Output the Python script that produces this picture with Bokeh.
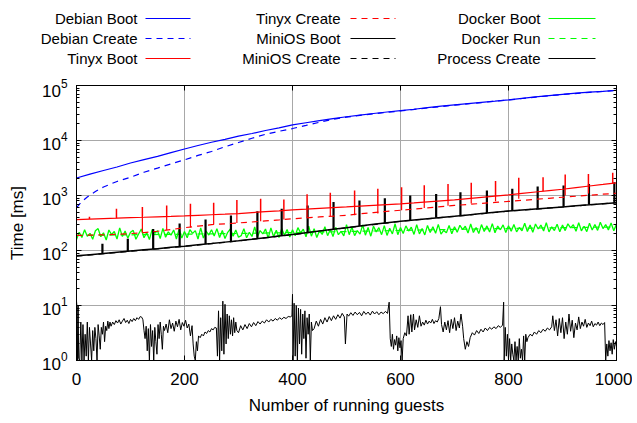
from bokeh.plotting import figure
from bokeh.models import Range1d, LogAxis, LinearAxis, FixedTicker, LogTicker, CustomJSTickFormatter
from bokeh.core.properties import value
from bokeh.embed import file_html
from bokeh.resources import INLINE

# ---------------- data ----------------
x_ticks = [0, 200, 400, 600, 800, 1000]

step25 = list(range(0, 1001, 25))

debian_boot = [2080, 2450, 2850, 3300, 3900, 4500, 5150, 6000, 7000, 8100,
               9300, 10500, 12000, 13400, 15200, 17000, 19200, 21000, 23000, 25000,
               27000, 29000, 31000, 33000, 35000, 37000, 39500, 42000, 44500, 47000,
               49500, 52000, 55000, 58500, 62000, 65500, 69000, 72500, 75500, 78500, 82000]

debian_create_x = [0, 10, 20, 35, 50, 75, 100, 125, 150, 175, 200, 225, 250, 275, 300,
                   325, 350, 375, 400, 425, 450, 475, 500, 525, 550, 600, 650, 700,
                   750, 800, 850, 900, 950, 1000]
debian_create = [600, 780, 940, 1180, 1430, 1800, 2150, 2650, 3150, 3750, 4450, 5350,
                 6300, 7700, 9200, 11000, 13000, 14700, 16500, 18800, 21500, 24300, 26600,
                 28700, 30600, 34500, 39000, 44000, 49000, 54500, 61500, 68500, 75000, 81500]

tinyx_boot = [365, 372, 380, 387, 395, 402, 410, 417, 425, 436, 447, 458, 470, 490, 508,
              527, 550, 566, 585, 602, 620, 640, 661, 683, 705, 734, 765, 797, 830, 876,
              925, 975, 1030, 1092, 1158, 1228, 1300, 1390, 1490, 1590, 1700]
tinyx_spike_x = [24, 74, 122, 167, 211, 254, 297, 341, 384, 427, 470, 515, 558, 602,
                 644, 688, 731, 776, 819, 864, 905, 948, 993]
tinyx_spike_base = [372, 387, 401, 415, 430, 449, 468, 501, 535, 567, 599, 632, 669, 707,
                    757, 813, 888, 977, 1077, 1197, 1310, 1480, 1670]
tinyx_spike_top = [410, 575, 615, 660, 705, 740, 830, 870, 850, 1050, 1120, 1230, 1320,
                   1410, 1540, 1620, 1700, 1830, 2100, 2150, 2400, 2470, 2600]

tinyx_create = [188, 190, 193, 197, 203, 212, 224, 240, 260, 278, 295, 306, 317, 330, 345,
                360, 377, 392, 407, 421, 437, 465, 490, 515, 540, 568, 597, 628, 660, 688,
                718, 748, 780, 815, 852, 890, 930, 970, 1012, 1055, 1100]
tinyx_create_bump_x = [122, 167, 211, 254, 297, 341, 384, 427, 470, 515, 558, 602, 644,
                       688, 731, 776, 819, 905, 948]
tinyx_create_bump_low = [212, 235, 262, 296, 316, 340, 366, 391, 414, 439, 470, 541, 593,
                         654, 717, 784, 871, 1003, 1093]
tinyx_create_bump_high = [401, 415, 430, 449, 468, 501, 535, 567, 599, 632, 669, 707, 757,
                          813, 888, 977, 1077, 1310, 1480]

minios_boot = [80, 84, 88, 93, 98, 103, 108, 114, 120, 127, 134, 142, 150, 160, 171, 183,
               195, 210, 226, 243, 260, 279, 299, 319, 340, 359, 379, 399, 420, 444, 469,
               494, 520, 544, 569, 594, 620, 648, 677, 708, 740]
minios_spike_x = [48, 95, 142, 191, 239, 286, 335, 380, 428, 476, 524, 571, 618, 666,
                  711, 760, 807, 854, 902, 949, 996]
minios_spike_base = [88, 97, 106, 118, 131, 145, 164, 185, 212, 244, 278, 316, 354, 392,
                     430, 479, 527, 573, 622, 676, 735]
minios_spike_top = [133, 163, 245, 310, 365, 435, 515, 575, 660, 760, 810, 890, 1000, 1070,
                    1150, 1230, 1320, 1450, 1520, 1620, 1740]

minios_create_x = [0, 100, 200, 300, 400, 500, 600, 700, 800, 900, 1000]
minios_create = [79, 97, 119, 149, 194, 259, 338, 418, 518, 618, 738]

docker_x = list(range(0, 1001, 5))
docker_boot = [158, 215, 172, 238, 181, 205, 160, 228, 250, 178, 210, 155, 236, 195, 222, 162, 258, 180, 226, 168, 214,
               232, 160, 199, 246, 170, 212, 158, 240, 206, 228, 165, 252, 174, 218, 190, 236, 162, 244, 168, 222,
               170, 240, 205, 230, 162, 258, 168, 226, 191, 238, 184, 250, 172, 232, 165, 214, 246, 182, 236, 174,
               186, 250, 170, 214, 180, 268, 176, 230, 200, 246, 168, 258, 178, 234, 172, 250, 190, 240, 176, 238,
               186, 260, 210, 244, 178, 276, 182, 248, 172, 228, 196, 270, 186, 242, 180, 264, 194, 222, 184, 296,
               194, 268, 186, 230, 198, 292, 190, 262, 182, 276, 218, 260, 194, 284, 188, 254, 200, 306, 194, 262,
               204, 280, 226, 266, 196, 296, 200, 250, 192, 286, 212, 270, 206, 298, 198, 232, 210, 284, 202, 270,
               214, 288, 240, 276, 208, 304, 212, 262, 204, 296, 222, 280, 216, 308, 210, 278, 238, 292, 212, 282,
               224, 298, 218, 262, 228, 312, 222, 292, 214, 304, 246, 290, 226, 320, 218, 270, 230, 300, 220, 290,
               230, 306, 258, 294, 224, 320, 228, 276, 220, 312, 236, 298, 232, 326, 250, 296, 236, 316, 228, 302]

docker_run_x = [0, 100, 200, 300, 400, 500, 600, 700, 800, 900, 1000]
docker_run = [188, 193, 198, 204, 212, 221, 232, 242, 252, 260, 268]

process_x = [0, 1, 2, 3, 4, 6, 8, 10, 12, 14, 16, 18, 20, 22, 24, 26, 28, 30, 32, 34, 36, 38, 40, 42, 44, 46, 48, 50,
             52, 54, 56, 58, 60, 62,
             64, 67, 70, 73, 76, 79, 82, 85, 88, 91, 94, 97, 100, 103, 106, 109, 112, 115, 118, 121, 123,
             125, 127, 129, 131, 133, 135, 137, 139, 141, 143, 145, 147, 149, 151, 153, 155, 157, 159, 161,
             163, 166, 169, 172, 175, 178, 181, 184, 187, 190, 193, 196, 199, 202, 205, 208, 211, 214, 216,
             218, 220, 222, 224, 226, 229, 232, 235, 238, 241, 244, 247, 250, 253, 256, 259,
             261, 263, 265, 267, 269, 271, 273, 275, 277, 279, 281, 283, 285, 287, 289, 291, 293, 295, 297,
             300, 304, 308, 312, 316, 320, 324, 328, 332, 336, 340, 344, 348, 352, 356, 360, 364, 368, 372,
             376, 380, 384, 388, 392, 396, 399,
             400, 401, 403, 405, 407, 409, 411, 413, 415, 417, 419, 421, 423, 425, 427, 429, 431, 433, 435, 437,
             440, 444, 448, 452, 456, 460, 464, 468, 472, 476, 480, 484, 488, 492, 496, 498, 501, 504, 508, 512,
             516, 520, 524, 528, 532, 536, 540, 544, 548, 552, 556, 560, 564, 568, 572, 576, 579,
             581, 583, 585, 587, 589, 591, 593, 595, 597, 599, 601, 603,
             605, 608, 611, 614, 616, 619, 621, 624, 626, 629, 632, 635, 638, 641, 644, 647, 650, 653, 656,
             659, 662, 665, 668, 671, 674,
             676, 679, 682, 685, 688, 691, 694, 697, 700, 703, 706, 709, 712, 715, 717,
             720, 723, 726,
             729, 733, 737, 741, 745, 749, 753, 757, 761, 765, 769, 773, 777, 781, 785, 789, 791,
             792, 794, 796, 798, 800, 802, 804, 806, 808, 810, 812, 814, 816, 818, 820, 822, 824, 826, 828,
             830, 832, 834,
             836, 840, 844, 848, 852, 856, 860, 864, 868, 872, 876, 880,
             882, 885, 888, 891, 894, 897, 900, 903, 906, 909, 912, 915, 918, 921, 924, 927, 930, 933, 936,
             939, 942, 945, 948, 951, 954, 957, 960, 963, 966, 969, 972, 975, 978,
             980, 982, 984, 986, 988, 990, 992, 994, 996, 998, 1000]
process_create = [12, 9, 1, 10, 1.1, 1, 5, 1, 4.5, 1, 3, 1.2, 5, 1, 4, 2, 1, 3.5, 1.5, 4, 2.5, 1, 4.5, 2.8, 1.6, 4, 3, 5,
                  2.2, 4.2, 3.5, 5.2, 3.8, 5,
                  4.2, 5, 4.5, 5.3, 4.8, 5.5, 4.6, 5.2, 5.8, 4.9, 5.4, 4.7, 5.6, 5.1, 5.8, 5.3, 6, 5.6, 6.3, 6.1, 5.5,
                  3.5, 2.5, 4.2, 1.5, 3.8, 1, 4.5, 1.8, 3.5, 1, 4, 2.2, 1.3, 4.5, 2.5, 5, 3, 1.6, 4.2,
                  3.5, 4.6, 3.2, 5.5, 3.8, 4.8, 3.4, 5.2, 4.1, 5.6, 3.6, 4.9, 4.2, 5.4, 3.9, 4.6, 2.8, 4.3, 2,
                  1.2, 1, 2.2, 1.5, 2.8, 2.6, 3, 2.8, 3.3, 3.1, 3.5, 3.3, 3.8, 3.6, 4, 3.9,
                  1.2, 8, 1, 6, 1.5, 12, 1.3, 10.5, 2, 7, 2.5, 6.5, 3, 5.5, 2.8, 6, 3.2, 5, 3.5,
                  3.2, 4.3, 3.6, 4.5, 3.8, 4.7, 4.1, 4.9, 4.3, 5.1, 4.6, 5.2, 4.8, 5.5, 5, 5.6, 5.2, 5.8, 5.4,
                  6, 5.6, 6.1, 5.8, 6.3, 6.2, 6.5,
                  16, 1, 11, 1.2, 10, 1, 9, 2, 8.5, 1.3, 7, 2.5, 8, 1.1, 6, 3, 7, 1, 5, 3.5,
                  3.8, 5.2, 4.2, 5.6, 4.6, 6, 5, 6.3, 5.3, 6.5, 5.6, 6.8, 5.9, 7.2, 6.2, 2.0, 7, 6.4, 7.4, 6.6,
                  7.6, 6.8, 7.5, 6.5, 7.8, 6.9, 7.6, 6.7, 7.9, 7, 7.7, 6.8, 7.6, 7.1, 7.8, 7.2, 11.5,
                  2.5, 1.8, 3, 1.6, 2.4, 1.9, 2.8, 1.5, 2.6, 1.7, 2.3, 1,
                  2.5, 3.2, 2.8, 6.5, 3, 6.8, 3.3, 7, 3.6, 5.5, 4, 6.5, 4.2, 5, 4.4, 5.4, 4.6, 5.2, 4.8,
                  5.6, 4.7, 5.3, 5, 5.8, 9.5,
                  4.5, 3.3, 5, 3.6, 5.3, 3.2, 5.6, 3.8, 6, 3.5, 5.2, 3.9, 7, 4.2, 2.5,
                  1.6, 2.2, 1.8,
                  2.6, 3.2, 2.9, 3.5, 3.1, 3.7, 3.3, 3.9, 3.5, 4, 3.7, 4.1, 3.8, 4.3, 4, 4.4, 11.5,
                  1, 4, 1.2, 3, 1, 2.5, 1, 2, 1.3, 1, 2.2, 1, 1.8, 1, 2.5, 1.1, 1.6, 1, 2.8,
                  1, 3, 2.2,
                  2.6, 3, 2.8, 3.3, 3, 3.5, 3.2, 3.7, 3.4, 3.9, 3.6, 4.1,
                  6.5, 3.5, 5.5, 2.8, 5.8, 3.2, 6, 2.5, 5, 3, 7, 3.4, 5.4, 2.6, 4.8, 3.6, 6.2, 3.8, 5,
                  4.2, 5.6, 4, 4.8, 4.3, 5.2, 4.1, 4.7, 4.4, 5, 4.3, 4.8, 4.5, 4.9,
                  1, 2, 1.2, 2.3, 1.5, 2.1, 1.3, 2.4, 1.6, 2.2, 1.8]

legend_labels = ["Debian Boot", "Debian Create", "Tinyx Boot",
                 "Tinyx Create", "MiniOS Boot", "MiniOS Create",
                 "Docker Boot", "Docker Run", "Process Create"]
legend_colors = ["#0000ff", "#0000ff", "#ff0000",
                 "#ff0000", "#000000", "#000000",
                 "#00ff00", "#00ff00", "#000000"]
legend_dashes = ["solid", "6 5", "solid", "6 5", "solid", "6 5", "solid", "6 5", "solid"]

FONT = "Liberation Sans"
DASH = "6 5"
LW = 1.2
GREEN = "#00ff00"

# ---------------- main plot ----------------
p = figure(width=632, height=340, y_axis_type="log",
           x_range=Range1d(0, 1000), y_range=Range1d(1, 1e5),
           output_backend="svg", toolbar_location=None,
           min_border_left=76, min_border_right=16, min_border_top=7, min_border_bottom=58)

p.outline_line_color = "black"
p.outline_line_width = 1

p.xaxis.ticker = FixedTicker(ticks=x_ticks, minor_ticks=[])
p.yaxis.ticker = LogTicker(num_minor_ticks=10)
p.xaxis.axis_label = "Number of running guests"
p.yaxis.axis_label = "Time [ms]"
for ax in (p.xaxis, p.yaxis):
    ax.axis_label_text_font = FONT
    ax.axis_label_text_font_size = "17px"
    ax.axis_label_text_font_style = "normal"
    ax.axis_label_text_color = "black"
    ax.major_label_text_font = FONT
    ax.major_label_text_font_size = "17px"
    ax.major_label_text_color = "black"
    ax.major_tick_in = 5
    ax.major_tick_out = 0
    ax.minor_tick_in = 3
    ax.minor_tick_out = 0
    ax.axis_line_color = "black"
    ax.major_tick_line_color = "black"
    ax.minor_tick_line_color = "black"
p.xaxis.major_label_standoff = 12
p.xaxis.axis_label_standoff = 8
p.yaxis.major_label_standoff = 9
p.yaxis.axis_label_standoff = 12

blank = CustomJSTickFormatter(code="return ''")
right_ax = LogAxis(ticker=LogTicker(num_minor_ticks=10), formatter=blank,
                   major_label_text_font_size="1px", major_label_standoff=0,
                   major_tick_in=5, major_tick_out=0, minor_tick_in=3, minor_tick_out=0)
p.add_layout(right_ax, "right")
top_ax = LinearAxis(ticker=FixedTicker(ticks=x_ticks, minor_ticks=[]), formatter=blank,
                    major_label_text_font_size="1px", major_label_standoff=0,
                    major_tick_in=5, major_tick_out=0, minor_tick_in=0, minor_tick_out=0)
p.add_layout(top_ax, "above")

p.grid.grid_line_color = "#a8a8a8"
p.grid.grid_line_width = 1
p.xgrid.ticker = FixedTicker(ticks=x_ticks)

# series hidden underneath first
p.line(minios_create_x, minios_create, line_color="black", line_width=LW, line_dash=DASH)
p.line(docker_run_x, docker_run, line_color=GREEN, line_width=LW, line_dash=DASH)

# Process Create
p.line(process_x, process_create, line_color="black", line_width=1)

# Docker Boot
p.line(docker_x, docker_boot, line_color=GREEN, line_width=1.3)

# MiniOS Boot
p.line(step25, minios_boot, line_color="black", line_width=1.5)
p.segment(x0=minios_spike_x, y0=minios_spike_base, x1=minios_spike_x, y1=minios_spike_top,
          line_color="black", line_width=2.2)

# Tinyx Create
p.line(step25, tinyx_create, line_color="#ff0000", line_width=LW, line_dash=DASH)
p.segment(x0=tinyx_create_bump_x, y0=tinyx_create_bump_low, x1=tinyx_create_bump_x,
          y1=tinyx_create_bump_high, line_color="#ff0000", line_width=LW)

# Tinyx Boot
p.line(step25, tinyx_boot, line_color="#ff0000", line_width=LW)
p.segment(x0=tinyx_spike_x, y0=tinyx_spike_base, x1=tinyx_spike_x, y1=tinyx_spike_top,
          line_color="#ff0000", line_width=1.5)

# Debian
p.line(debian_create_x, debian_create, line_color="#0000ff", line_width=LW, line_dash=DASH)
p.line(step25, debian_boot, line_color="#0000ff", line_width=LW)

# ---------------- legend (gnuplot style: label, then sample) ----------------
lg = figure(width=632, height=78, x_range=Range1d(0, 632), y_range=Range1d(78, 0),
            output_backend="svg", toolbar_location=None,
            x_axis_location=None, y_axis_location=None,
            min_border=0, min_border_left=0, min_border_right=0,
            min_border_top=0, min_border_bottom=0)
lg.grid.visible = False
lg.outline_line_color = None

col_text_right = [137, 340, 540]
col_line_start = [145, 350, 548]
col_line_end = [190, 395, 595]
row_y = [18, 38, 58]

for i, (lab, colr, dash) in enumerate(zip(legend_labels, legend_colors, legend_dashes)):
    c, r = divmod(i, 3)
    lg.text(x=[col_text_right[c]], y=[row_y[r]], text=[lab], text_align="right",
            text_baseline="middle", text_font=value(FONT), text_font_size="15px",
            text_color="black")
    lg.segment(x0=[col_line_start[c]], y0=[row_y[r]], x1=[col_line_end[c]], y1=[row_y[r]],
               line_color=colr, line_width=LW, line_dash=dash)

# two stacked roots (avoids frame alignment between legend strip and plot)
open("out.html", "w").write(file_html([lg, p], INLINE))
